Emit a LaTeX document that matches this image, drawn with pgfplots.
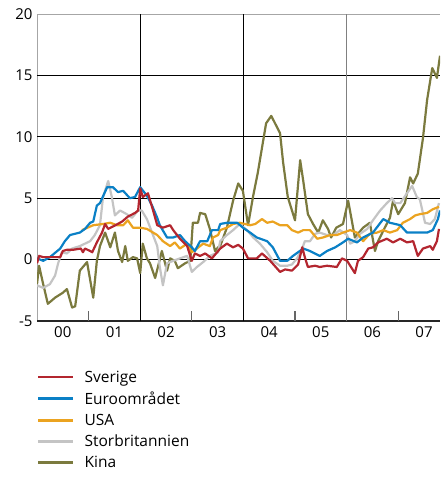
\documentclass[border=0pt]{standalone}
\usepackage{pgfplots}
\pgfplotsset{compat=1.18}
\usepackage{fontspec}
\setmainfont{Open Sans}
\definecolor{cSve}{HTML}{B3262F}
\definecolor{cEur}{HTML}{0A80C6}
\definecolor{cUSA}{HTML}{EBA320}
\definecolor{cGBR}{HTML}{C4C4C4}
\definecolor{cKin}{HTML}{7B7A3E}
\begin{document}
\begin{tikzpicture}
\begin{axis}[
  scale only axis, width=403pt, height=307pt,
  xmin=0, xmax=7.81, ymin=-5, ymax=20,
  axis line style={draw=none},
  xtick={0.5,1.5,2.5,3.5,4.5,5.5,6.5,7.5},
  xticklabels={00,01,02,03,04,05,06,07},
  ytick={-5,0,5,10,15,20},
  major tick length=0pt,
  /pgf/number format/assume math mode=true,
  tick label style={font=\fontsize{15}{17}\selectfont},
  xticklabel style={yshift=-2pt},
  yticklabel style={xshift=-1pt},
  reverse legend,
  legend cell align=left,
  legend style={draw=none, fill=none, inner sep=0pt, at={(0,0)}, anchor=north west,
    yshift=-47.5pt, font=\fontsize{15.5}{17}\selectfont, row sep=4.1pt},
  legend image code/.code={\draw[#1, line width=2.6pt] (0pt,0pt) -- (35pt,0pt); \path (43pt,0pt);},
  every axis plot/.append style={line width=2.2pt, line join=round},
]
% frame and grid
\draw[gray!70, line width=1.3pt] (axis cs:0,-5) -- (axis cs:0,20) -- (axis cs:7.81,20);
\draw[black!85, line width=1.2pt] (axis cs:0,-5) -- (axis cs:7.81,-5);
\draw[black, line width=1.2pt] (axis cs:0,0) -- (axis cs:7.81,0);
\draw[black, line width=1.2pt] (axis cs:0,5) -- (axis cs:7.81,5);
\draw[black, line width=1.2pt] (axis cs:0,10) -- (axis cs:7.81,10);
\draw[black, line width=1.2pt] (axis cs:0,15) -- (axis cs:7.81,15);
\draw[black, line width=1.2pt] (axis cs:2,-5) -- (axis cs:2,20);
\draw[black, line width=1.2pt] (axis cs:4,-5) -- (axis cs:4,20);
\draw[gray, line width=1.2pt] (axis cs:6,-5) -- (axis cs:6,20);
\draw[black!60, line width=1.2pt] (axis cs:1,-5) -- (axis cs:1,-4.2);
\draw[black!60, line width=1.2pt] (axis cs:3,-5) -- (axis cs:3,-4.2);
\draw[black!60, line width=1.2pt] (axis cs:5,-5) -- (axis cs:5,-4.2);
\draw[black!60, line width=1.2pt] (axis cs:7,-5) -- (axis cs:7,-4.2);
\coordinate (bl) at (rel axis cs:0,0);
\coordinate (tr) at (rel axis cs:1,1);

\addplot[cKin] coordinates {
(0.00,-2.0)(0.04,-0.5)(0.12,-2.0)(0.21,-3.6)(0.35,-3.1)(0.50,-2.7)(0.58,-2.4)(0.68,-3.9)(0.74,-3.8)(0.83,-0.9)(0.97,-0.2)(1.09,-3.1)(1.16,-0.1)(1.22,1.1)(1.32,2.2)(1.42,1.0)(1.51,2.2)(1.57,0.7)(1.65,-0.2)(1.71,1.1)(1.76,-0.1)(1.86,0.2)(1.94,0.1)(2.00,-1.1)(2.05,1.3)(2.13,0.1)(2.19,-0.3)(2.29,-1.5)(2.42,0.7)(2.52,-0.9)(2.58,0.1)(2.67,-0.1)(2.73,-0.7)(2.87,-0.3)(2.97,-0.1)(3.02,3.0)(3.12,3.0)(3.16,3.8)(3.26,3.7)(3.35,2.5)(3.45,0.7)(3.51,1.0)(3.55,1.1)(3.68,2.6)(3.80,4.8)(3.90,6.2)(3.99,5.6)(4.09,2.8)(4.19,5.2)(4.28,7.1)(4.44,11.1)(4.54,11.7)(4.71,10.3)(4.77,7.9)(4.86,5.1)(5.00,3.2)(5.10,8.1)(5.16,6.4)(5.25,3.7)(5.35,2.9)(5.45,2.2)(5.54,3.2)(5.64,2.5)(5.70,1.8)(5.80,2.6)(5.93,2.9)(6.03,4.8)(6.10,3.2)(6.16,1.8)(6.22,2.1)(6.32,2.6)(6.45,3.0)(6.55,0.7)(6.61,1.5)(6.74,2.6)(6.84,3.4)(6.90,4.8)(7.00,3.7)(7.13,4.6)(7.23,6.7)(7.29,6.2)(7.38,7.0)(7.48,9.9)(7.56,13.0)(7.66,15.6)(7.75,14.8)(7.81,16.6)
};
\addlegendentry{Kina}
\addplot[cGBR] coordinates {
(0.00,-2.1)(0.12,-2.3)(0.25,-2.0)(0.35,-1.3)(0.41,-0.3)(0.48,0.6)(0.58,0.5)(0.68,0.9)(0.83,1.1)(1.03,1.5)(1.12,2.0)(1.22,2.8)(1.28,5.1)(1.38,6.4)(1.45,5.1)(1.51,3.6)(1.61,4.0)(1.74,3.7)(1.84,3.4)(1.96,4.0)(2.03,4.0)(2.13,3.3)(2.23,2.2)(2.33,1.1)(2.38,-0.6)(2.44,-2.1)(2.52,-0.3)(2.64,-0.1)(2.77,0.1)(2.91,0.3)(3.00,-1.0)(3.10,-0.6)(3.22,-0.2)(3.35,0.3)(3.51,0.6)(3.55,1.5)(3.68,2.0)(3.80,2.4)(3.93,2.9)(4.07,2.4)(4.19,1.8)(4.32,1.3)(4.46,0.6)(4.57,-0.1)(4.71,-0.5)(4.85,-0.5)(4.94,-0.4)(5.04,0.1)(5.14,0.9)(5.19,1.5)(5.29,1.5)(5.39,2.1)(5.48,2.2)(5.62,2.0)(5.74,2.0)(5.87,2.4)(6.01,2.0)(6.07,1.3)(6.16,1.5)(6.26,2.1)(6.40,2.5)(6.51,3.2)(6.65,4.0)(6.78,4.6)(6.88,5.0)(6.94,4.6)(7.04,4.6)(7.17,5.4)(7.27,6.0)(7.36,5.1)(7.42,4.9)(7.52,3.0)(7.62,2.9)(7.71,3.3)(7.79,4.6)
};
\addlegendentry{Storbritannien}
\addplot[cUSA] coordinates {
(0.87,2.4)(1.09,2.8)(1.28,2.9)(1.42,3.0)(1.55,2.8)(1.67,2.8)(1.76,3.2)(1.86,2.6)(2.00,2.6)(2.13,2.5)(2.33,2.0)(2.44,1.5)(2.58,1.1)(2.67,1.4)(2.77,0.9)(2.91,1.3)(3.00,0.6)(3.10,0.9)(3.22,1.3)(3.35,1.1)(3.41,1.8)(3.51,2.0)(3.55,2.4)(3.68,2.6)(3.80,2.9)(3.93,3.0)(4.03,2.9)(4.13,2.8)(4.23,2.9)(4.36,3.3)(4.46,3.0)(4.57,3.1)(4.71,2.8)(4.85,2.8)(4.94,2.4)(5.06,2.2)(5.16,2.4)(5.29,2.4)(5.43,1.7)(5.54,1.8)(5.68,2.0)(5.81,2.0)(5.93,2.2)(6.07,2.4)(6.20,2.2)(6.32,1.5)(6.45,2.1)(6.59,2.2)(6.71,2.4)(6.84,2.2)(6.98,2.4)(7.09,3.0)(7.23,3.3)(7.33,3.6)(7.42,3.7)(7.56,3.8)(7.67,4.1)(7.79,4.3)
};
\addlegendentry{USA}
\addplot[cEur] coordinates {
(0.00,0.1)(0.12,-0.1)(0.25,0.2)(0.45,0.9)(0.54,1.5)(0.64,2.0)(0.83,2.2)(0.93,2.5)(1.03,3.0)(1.09,3.1)(1.16,4.4)(1.22,4.6)(1.36,5.9)(1.47,5.9)(1.57,5.5)(1.67,5.6)(1.80,5.0)(1.90,5.1)(2.00,5.9)(2.13,5.2)(2.23,4.4)(2.33,3.4)(2.38,2.8)(2.52,1.8)(2.64,1.8)(2.77,2.0)(2.87,1.5)(3.00,1.0)(3.06,0.7)(3.16,1.5)(3.30,1.5)(3.39,2.4)(3.51,2.4)(3.55,2.9)(3.68,3.0)(3.88,3.0)(3.99,2.6)(4.13,2.2)(4.26,1.8)(4.46,1.5)(4.57,1.0)(4.71,-0.1)(4.85,-0.1)(4.96,0.3)(5.16,0.9)(5.29,0.7)(5.48,0.3)(5.62,0.7)(5.78,1.0)(5.93,1.4)(6.03,1.7)(6.20,1.4)(6.32,1.8)(6.51,2.2)(6.71,3.3)(6.84,3.0)(7.04,2.8)(7.17,2.2)(7.36,2.2)(7.56,2.2)(7.67,2.4)(7.77,3.3)(7.81,4.0)
};
\addlegendentry{Euroområdet}
\addplot[cSve] coordinates {
(0.00,-0.3)(0.04,0.3)(0.12,0.2)(0.25,0.2)(0.45,0.2)(0.50,0.7)(0.58,0.8)(0.70,0.8)(0.85,0.9)(0.89,0.6)(0.93,0.9)(1.03,0.7)(1.07,0.6)(1.16,1.4)(1.26,2.2)(1.32,2.9)(1.38,2.5)(1.52,2.8)(1.65,3.1)(1.76,3.5)(1.90,3.8)(1.96,4.0)(2.00,5.8)(2.05,5.1)(2.15,5.4)(2.25,4.0)(2.33,2.8)(2.44,2.6)(2.58,2.8)(2.64,2.4)(2.77,1.7)(2.91,1.1)(3.00,-0.1)(3.06,0.5)(3.16,0.3)(3.26,0.5)(3.39,0.1)(3.51,0.7)(3.55,0.9)(3.68,1.3)(3.80,1.0)(3.90,1.2)(3.99,0.9)(4.09,0.1)(4.26,0.1)(4.36,0.5)(4.52,-0.1)(4.71,-1.0)(4.81,-0.8)(4.94,-0.9)(5.06,-0.4)(5.14,1.0)(5.19,0.2)(5.25,-0.6)(5.39,-0.5)(5.48,-0.6)(5.62,-0.5)(5.81,-0.6)(5.91,0.1)(6.01,-0.1)(6.07,-0.5)(6.16,-1.1)(6.22,-0.1)(6.32,0.2)(6.42,0.9)(6.51,1.0)(6.61,1.4)(6.78,1.7)(6.90,1.4)(7.04,1.7)(7.17,1.4)(7.29,1.5)(7.38,0.3)(7.48,0.9)(7.62,1.1)(7.67,0.8)(7.75,1.5)(7.79,2.5)
};
\addlegendentry{Sverige}
\end{axis}
\pgfresetboundingbox
\path[use as bounding box] ([shift={(-37pt,-156pt)}]bl) rectangle ([shift={(0pt,14pt)}]tr);
\end{tikzpicture}
\end{document}
